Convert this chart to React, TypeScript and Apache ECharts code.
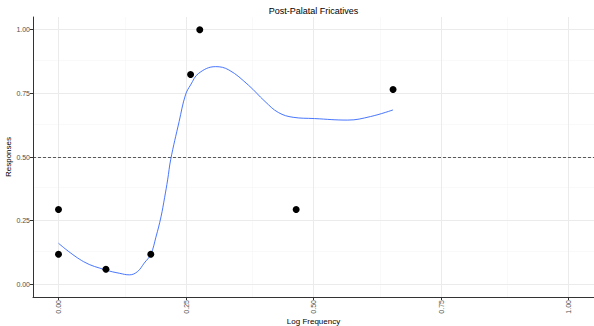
import React, { useEffect, useRef } from "react";
import * as echarts from "echarts";

const title = "Post-Palatal Fricatives";
const xName = "Log Frequency";
const yName = "Responses";

const xTicks = [0, 0.25, 0.5, 0.75, 1.0];
const yTicks = [0, 0.25, 0.5, 0.75, 1.0];
const xMinor = [0.125, 0.375, 0.625, 0.875];
const yMinor = [0.125, 0.375, 0.625, 0.875];

const pointX = [0, 0, 0.093, 0.181, 0.259, 0.277, 0.466, 0.656];
const pointY = [0.294, 0.118, 0.059, 0.118, 0.824, 1.0, 0.294, 0.765];

const curveX = [0, 0.049, 0.093, 0.12, 0.139, 0.155, 0.168, 0.181, 0.191, 0.201, 0.208, 0.214, 0.22, 0.2365, 0.249, 0.259, 0.275, 0.308, 0.334, 0.372, 0.405, 0.431, 0.46, 0.502, 0.567, 0.612, 0.656];
const curveY = [0.161, 0.089, 0.056, 0.043, 0.037, 0.05, 0.083, 0.118, 0.185, 0.265, 0.34, 0.41, 0.49, 0.639, 0.744, 0.783, 0.829, 0.855, 0.842, 0.783, 0.718, 0.675, 0.656, 0.651, 0.645, 0.659, 0.685];

const refLine = 0.5;

export default function App() {
  const ref = useRef<HTMLDivElement>(null);
  useEffect(() => {
    if (!ref.current) return;
    const chart = echarts.init(ref.current, undefined, { renderer: "svg" });
    const font = "'Liberation Sans', Arial, sans-serif";
    const major = { color: "#ebebeb", width: 1, type: "solid" };
    const minor = { color: "#f5f5f5", width: 0.6, type: "solid" };
    const gridLines: any[] = [
      ...xMinor.map((v) => ({ xAxis: v, lineStyle: minor })),
      ...yMinor.map((v) => ({ yAxis: v, lineStyle: minor })),
      ...xTicks.map((v) => ({ xAxis: v, lineStyle: major })),
      ...yTicks.map((v) => ({ yAxis: v, lineStyle: major })),
    ];
    chart.setOption({
      animation: false,
      backgroundColor: "#ffffff",
      grid: { left: 33, right: 0, top: 17, bottom: 29, containLabel: false, outerBoundsMode: "none" },
      graphic: [
        {
          type: "text",
          x: 313.5,
          y: 11,
          style: {
            text: title,
            textAlign: "center",
            textVerticalAlign: "middle",
            fontSize: 9,
            fontFamily: font,
            fill: "#000000",
          },
        },
        {
          type: "text",
          x: 313.5,
          y: 321,
          style: {
            text: xName,
            textAlign: "center",
            textVerticalAlign: "middle",
            fontSize: 8,
            fontFamily: font,
            fill: "#000000",
          },
        },
        {
          type: "text",
          x: 8,
          y: 157,
          rotation: Math.PI / 2,
          style: {
            text: yName,
            textAlign: "center",
            textVerticalAlign: "middle",
            fontSize: 8,
            fontFamily: font,
            fill: "#000000",
          },
        },
      ],
      xAxis: {
        type: "value",
        min: -0.05,
        max: 1.05,
        axisLine: { show: true, onZero: false, lineStyle: { color: "#333333", width: 1 } },
        axisTick: { show: true, length: 3, customValues: xTicks, lineStyle: { color: "#333333" } },
        axisLabel: {
          customValues: xTicks,
          rotate: 90,
          margin: 3,
          fontSize: 7,
          fontFamily: font,
          color: "#4d4d4d",
          formatter: (v: number) => v.toFixed(2),
        },
        splitLine: { show: false },
      },
      yAxis: {
        type: "value",
        min: -0.05,
        max: 1.05,
        axisLine: { show: true, onZero: false, lineStyle: { color: "#333333", width: 1 } },
        axisTick: { show: true, length: 3, customValues: yTicks, lineStyle: { color: "#333333" } },
        axisLabel: {
          customValues: yTicks,
          margin: 3,
          fontSize: 7,
          fontFamily: font,
          color: "#4d4d4d",
          formatter: (v: number) => v.toFixed(2),
        },
        splitLine: { show: false },
      },
      series: [
        {
          type: "line",
          data: [],
          z: 0,
          silent: true,
          markLine: {
            silent: true,
            z: 0,
            symbol: ["none", "none"],
            label: { show: false },
            animation: false,
            data: gridLines,
          },
        },
        {
          type: "line",
          data: [],
          z: 1,
          silent: true,
          markLine: {
            silent: true,
            z: 1,
            symbol: ["none", "none"],
            label: { show: false },
            animation: false,
            data: [{ yAxis: refLine, lineStyle: { color: "#333333", width: 0.8, type: [3, 2] } }],
          },
        },
        {
          type: "line",
          data: curveX.map((x, i) => [x, curveY[i]]),
          smooth: 0.4,
          showSymbol: false,
          symbol: "none",
          z: 10,
          lineStyle: { color: "#3366FF", width: 0.9 },
        },
        {
          type: "scatter",
          data: pointX.map((x, i) => [x, pointY[i]]),
          symbolSize: 7,
          z: 11,
          itemStyle: { color: "#000000", opacity: 1 },
        },
      ],
    });
    return () => chart.dispose();
  }, []);
  return (
    <div
      ref={ref}
      style={{ position: "fixed", left: 0, top: 0, width: 594, height: 326 }}
    />
  );
}
